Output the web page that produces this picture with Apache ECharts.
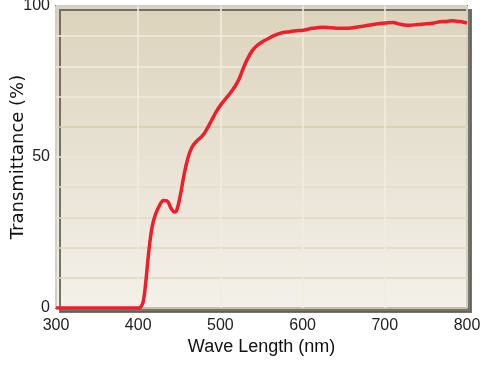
<!DOCTYPE html>
<html>
<head>
<meta charset="utf-8">
<script src="https://cdn.jsdelivr.net/npm/echarts@6/dist/echarts.min.js"></script>
<style>
  html, body { margin: 0; padding: 0; background: #fff; }
  #chart { width: 482px; height: 366px; }
</style>
</head>
<body>
<div id="chart"></div>
<script>
// wave length (nm) and transmittance (%)
var waveLength = [300, 350, 400, 403, 406, 409, 413, 417, 421, 426, 431, 435, 440, 444, 447, 451, 455, 458, 462, 466,
  472, 478, 483, 489, 495, 501, 507, 513, 518, 523, 528, 533, 539, 545, 552, 560, 568, 576, 584, 592,
  601, 612, 624, 635, 645, 653, 661, 669, 680, 694, 702, 710, 718, 724, 730, 740, 751, 760, 767, 775,
  783, 790, 795, 800];
var transmittance = [0, 0, 0, 0.3, 2, 8, 19, 27, 31, 34, 35.6, 35.5, 33, 31.8, 32.5, 37, 43, 47, 51, 53.5,
  55.5, 57, 59, 62, 65, 67.5, 69.5, 71.5, 73.5, 76, 79.5, 82.5, 85.3, 87, 88.3, 89.5, 90.5, 91.2, 91.5, 91.8,
  92, 92.6, 93, 92.8, 92.6, 92.6, 92.8, 93.1, 93.6, 94.2, 94.4, 94.5, 94, 93.7, 93.6, 93.9, 94.1, 94.4, 94.8, 94.9,
  95.1, 94.9, 94.7, 94.3];
var yLabels = [0, 50, 100];

var points = waveLength.map(function (w, i) { return [w, transmittance[i]]; });

var chart = echarts.init(document.getElementById('chart'));

var option = {
  animation: false,
  grid: {
    left: 56, right: 15, top: 6, bottom: 58,
    outerBoundsMode: 'none',
    containLabel: false,
    show: true,
    borderColor: '#767676',
    borderWidth: 2,
    backgroundColor: new echarts.graphic.LinearGradient(0, 0, 0, 1, [
      { offset: 0, color: '#dcd3bc' },
      { offset: 1, color: '#f4f1ea' }
    ]),
    shadowColor: 'rgba(95,93,82,0.85)',
    shadowBlur: 0,
    shadowOffsetX: 4,
    shadowOffsetY: 4
  },
  xAxis: {
    type: 'value',
    min: 300, max: 800, interval: 100,
    name: 'Wave Length (nm)',
    nameLocation: 'middle',
    nameGap: 30,
    nameMoveOverlap: false,
    nameTextStyle: { fontFamily: 'Liberation Sans', fontSize: 18, color: '#111' },
    axisLine: { show: false },
    axisTick: { show: false },
    axisLabel: { fontFamily: 'Liberation Sans', fontSize: 16, color: '#222', margin: 10 },
    splitLine: { lineStyle: { color: '#f3ecdc', width: 1.5 } }
  },
  yAxis: {
    type: 'value',
    min: 0, max: 100, interval: 10,
    name: 'Transmittance (%)',
    nameLocation: 'middle',
    nameGap: 29,
    nameMoveOverlap: false,
    nameTextStyle: { fontFamily: 'DejaVu Sans', fontSize: 18, color: '#111' },
    axisLine: { show: false },
    axisTick: { show: false },
    axisLabel: {
      fontFamily: 'Liberation Sans', fontSize: 16, color: '#222', margin: 6,
      formatter: function (v) { return yLabels.indexOf(v) >= 0 ? String(v) : ''; }
    },
    splitLine: {
      lineStyle: {
        width: 1.5,
        color: ['#e2d5b8', '#e2d5b8', '#e2d5b8', '#e4d8bc', '#e6dcc4', '#ece4d2',
                '#d9cbad', '#f0e8d8', '#f3ece0', '#f3ece0', '#f3ece0']
      }
    }
  },
  series: [{
    type: 'line',
    data: points,
    smooth: 0.4,
    symbol: 'none',
    lineStyle: { color: '#ee1f2a', width: 3.5 }
  }]
};

chart.setOption(option);
</script>
</body>
</html>
